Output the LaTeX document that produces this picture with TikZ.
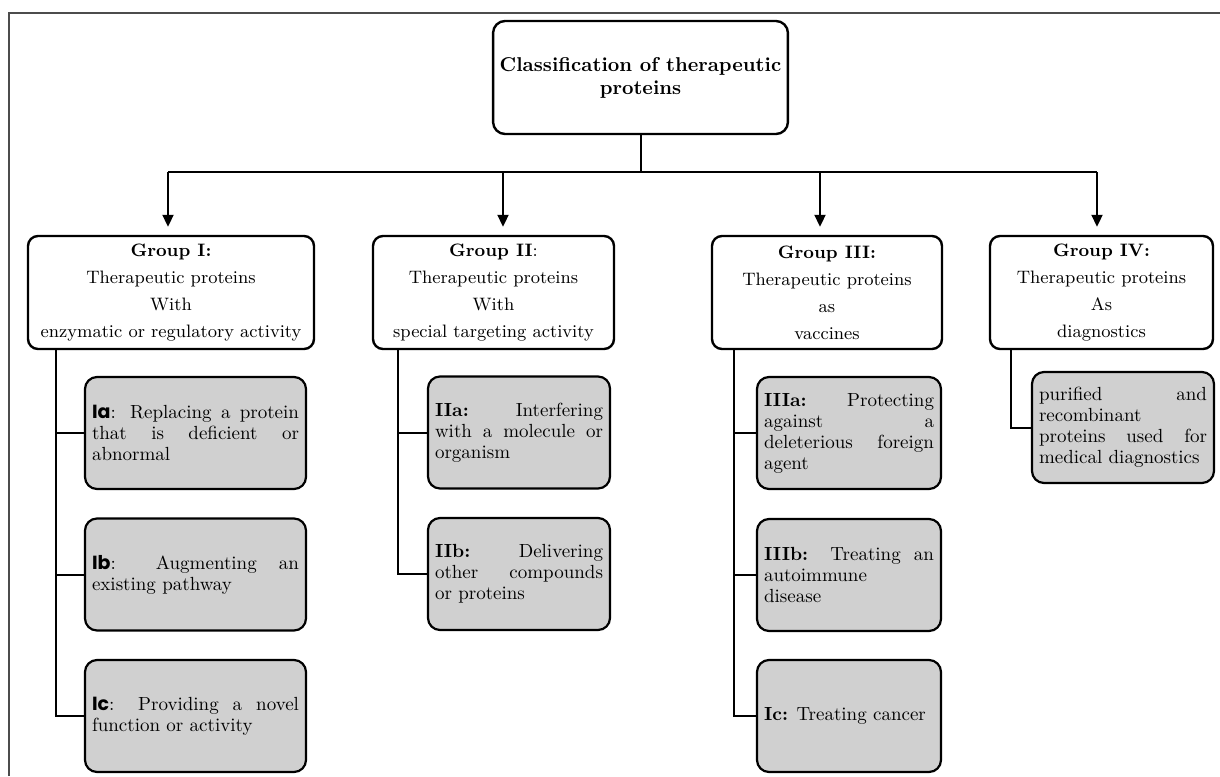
\documentclass[tikz,border=0pt]{standalone}
\usepackage{fontspec}
\usepackage{tikz}
\usetikzlibrary{arrows.meta}
\newfontfamily\etifont{Poppins}
\newcommand{\etichetta}[1]{{\etifont\bfseries #1}}
\definecolor{grigio}{RGB}{208,208,208}

\begin{document}
\begin{tikzpicture}[x=0.5pt, y=-0.5pt,
		radice/.style={draw, line width=1.2pt, rounded corners=6pt, fill=white, align=center,
			font=\fontsize{10}{11.5}\selectfont\bfseries, minimum width=143.5pt, minimum height=56.5pt},
		gruppo/.style={draw, line width=1.2pt, rounded corners=5pt, fill=white, align=center,
			font=\fontsize{9}{13.5}\selectfont, minimum height=56.5pt, inner sep=0pt},
		sottogruppo/.style={draw, line width=1.1pt, rounded corners=6pt, fill=grigio, align=justify,
			font=\fontsize{9.5}{10.5}\selectfont, minimum height=56pt, inner xsep=3.5pt, inner ysep=0pt},
		linea/.style={line width=1pt},
		freccia/.style={line width=1pt, -{Triangle[width=5.5pt,length=6pt]}, shorten >=4pt}]
	\useasboundingbox (0,0) rectangle (1220,776);
	
	% Cornice
	\draw[gray!60!black, line width=0.7pt] (9,776) -- (9,13) -- (1220,13);
	
	% Titolo
	\node[radice] (radice) at (640.5,77.5) {Classification of therapeutic\\proteins};
	
	% Gruppi
	\node[gruppo, minimum width=143pt] (g1) at (171,292.5) {\textbf{Group I:}\\Therapeutic proteins\\With\\enzymatic or regulatory activity};
	\node[gruppo, minimum width=120.5pt] (g2) at (493.5,292.5) {\textbf{Group II}:\\Therapeutic proteins\\With\\special targeting activity};
	\node[gruppo, minimum width=115pt] (g3) at (827,292.5) {\textbf{Group III:}\\Therapeutic proteins\\as\\vaccines};
	\node[gruppo, minimum width=111.5pt] (g4) at (1101.5,292.5) {\textbf{Group IV:}\\Therapeutic proteins\\As\\diagnostics};
	
	% Sottogruppi
	\node[sottogruppo, text width=103.5pt] (Ia) at (195.5,433) {\etichetta{Ia}: Replacing a protein\linebreak that is deficient or\linebreak abnormal};
	\node[sottogruppo, text width=103.5pt] (Ib) at (195.5,574.5) {\etichetta{Ib}: Augmenting an\linebreak existing pathway};
	\node[sottogruppo, text width=103.5pt] (Ic) at (195.5,716) {\etichetta{Ic}: Providing a novel\linebreak function or activity};
	
	\node[sottogruppo, text width=84pt] (IIa) at (519,432.5) {\textbf{IIa:} Interfering\linebreak with a molecule or\linebreak organism};
	\node[sottogruppo, text width=84pt] (IIb) at (519,574) {\textbf{IIb:} Delivering\linebreak other compounds\linebreak or proteins};
	
	\node[sottogruppo, text width=85pt] (IIIa) at (849,433) {\textbf{IIIa:} Protecting\linebreak against a\linebreak deleterious foreign\linebreak agent};
	\node[sottogruppo, text width=85pt] (IIIb) at (849,575) {\textbf{IIIb:} Treating an\linebreak autoimmune\newline disease};
	\node[sottogruppo, text width=85pt] (IIIc) at (849,716) {\textbf{Ic:} Treating cancer};
	
	\node[sottogruppo, text width=84pt, minimum height=55.5pt] (IV) at (1123,427.5) {purified and\linebreak recombinant\newline proteins used for\linebreak medical diagnostics};
	
	% Collegamenti dal titolo
	\coordinate (b1) at (168,172);
	\coordinate (b2) at (503,172);
	\coordinate (b3) at (820,172);
	\coordinate (b4) at (1097,172);
	\draw[linea] (radice.south) -- (radice.south |- b1);
	\draw[linea] (b1) -- (b4);
	\foreach \i in {1,...,4}
		\draw[freccia] (b\i) -- (b\i |- g\i.north);
	
	% Collegamenti ai sottogruppi
	\draw[linea] (g1.south west) ++(29,0) coordinate (t1) |- (Ic.west);
	\draw[linea] (t1 |- Ia.west) -- (Ia.west);
	\draw[linea] (t1 |- Ib.west) -- (Ib.west);
	
	\draw[linea] (g2.south west) ++(26,0) coordinate (t2) |- (IIb.west);
	\draw[linea] (t2 |- IIa.west) -- (IIa.west);
	
	\draw[linea] (g3.south west) ++(23,0) coordinate (t3) |- (IIIc.west);
	\draw[linea] (t3 |- IIIa.west) -- (IIIa.west);
	\draw[linea] (t3 |- IIIb.west) -- (IIIb.west);
	
	\draw[linea] (g4.south west) ++(22,0) |- (IV.west);
\end{tikzpicture}
\end{document}
